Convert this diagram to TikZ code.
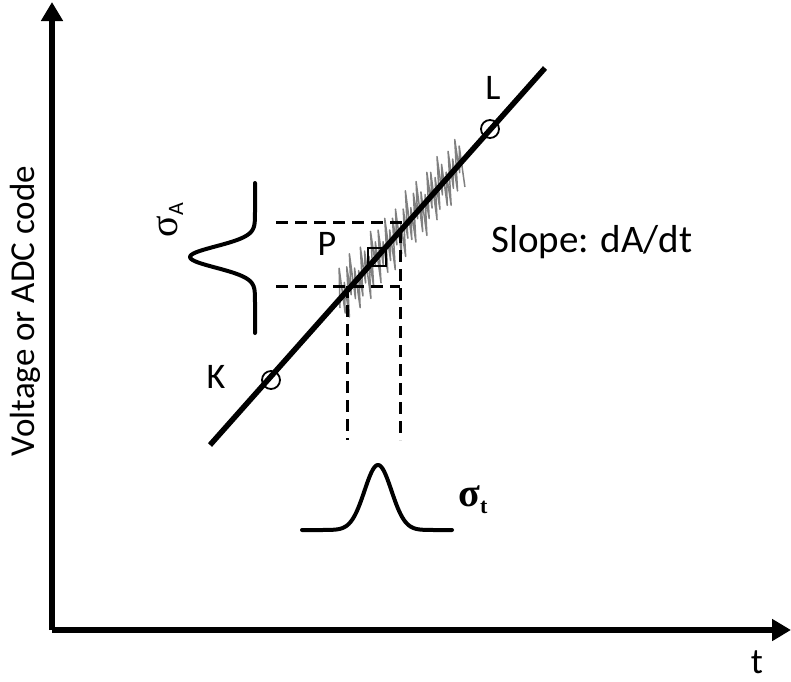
\documentclass[tikz,border=0pt]{standalone}
\usepackage{fontspec}
\setmainfont{Carlito}
\newfontfamily\symf{Liberation Serif}
\usetikzlibrary{arrows.meta}
\begin{document}
\begin{tikzpicture}[x=1pt,y=-1pt,
  axis/.style={line width=6pt,-{Triangle[width=21pt,length=19pt]}},
  mainline/.style={line width=5.5pt},
  gauss/.style={line width=4pt,line cap=round,line join=round},
  dash line/.style={line width=3pt,dash pattern=on 12pt off 7pt},
  marker/.style={circle,draw,line width=1.8pt,minimum size=18pt,inner sep=0pt},
  lbl/.style={font=\fontsize{36}{42}\selectfont,inner sep=0pt}]
\useasboundingbox (0,0) rectangle (791,681);
% axes
\coordinate (O) at (52,630);
\coordinate (Ytop) at (52,2);
\coordinate (Xend) at (791,630);
\draw[axis] (O) -- (Ytop);
\draw[axis] (O) -- (Xend);
\node[lbl,font=\fontsize{35}{40}\selectfont,rotate=90] (ylab) at (25,311) {Voltage or ADC code};
\node[lbl] (tlab) at (757,662) {t};
% noise
\draw[black!50,line width=1.5pt,line join=round] (340,308)
  \foreach \d [count=\i] in {-22,14,-8,20,-17,6,-24,12,-10,22,-5,16,-20,9,-14,24,-7,18,-23,4,
     -12,21,-18,10,-6,19,-21,13,-9,23,-15,7,-19,17,-4,22,-13,11,-24,15,
     -8,20,-16,5,-22,18,-11,24,-6,14,-20,9,-17,21,-10,16,-23,8,-14,19,
     -5,22,-18,12,-9,17,-21,6,-13,20}{
     -- ({340+1.75*\i+0.12*\d},{445-1.125*(340+1.75*\i-210)+1.3*\d}) };
% main line
\coordinate (A) at (210,445);
\coordinate (B) at (545,68);
\draw[mainline] (A) -- (B);
\node[marker] (K) at (271,380) {};
\node[marker] (L) at (490,129) {};
\node[lbl] (Klab) at (216,377) {K};
\node[lbl] (Llab) at (493,88) {L};
\node[lbl] (Plab) at (327,244) {P};
\node[draw,line width=1.8pt,minimum size=18pt,inner sep=0pt] (P) at (377,257) {};
\node[lbl,font=\fontsize{39}{44}\selectfont,anchor=west] (slope) at (491,242) {Slope: dA/dt};
% dashed projections
\coordinate (h1a) at (276,222);
\coordinate (h1b) at (400,222);
\coordinate (h2a) at (276,286);
\coordinate (h2b) at (400,286);
\coordinate (v1b) at (347,440);
\coordinate (v2b) at (400,440);
\draw[dash line] (h1a) -- (h1b) -- (v2b);
\draw[dash line] (h2a) -- (h2b);
\draw[dash line] (347,286) -- (v1b);
% sigma_A gaussian
\draw[gauss] plot[domain=183:333,samples=120,variable=\y] ({255-65*exp(-((\y-257)/15)^2)},\y);
\node[rotate=90,inner sep=0pt] (sA) at (170,220) {\symf\fontsize{40}{42}\selectfont σ\raisebox{-6pt}{\fontsize{22}{24}\selectfont\rmfamily A}};
% sigma_t gaussian
\draw[gauss] plot[domain=302:452,samples=120,variable=\x] (\x,{530-65*exp(-((\x-378)/19)^2)});
\node[inner sep=0pt] (st) at (473,500) {\symf\bfseries\fontsize{40}{42}\selectfont σ\raisebox{-7pt}{\fontsize{22}{24}\selectfont t}};
\end{tikzpicture}
\end{document}
